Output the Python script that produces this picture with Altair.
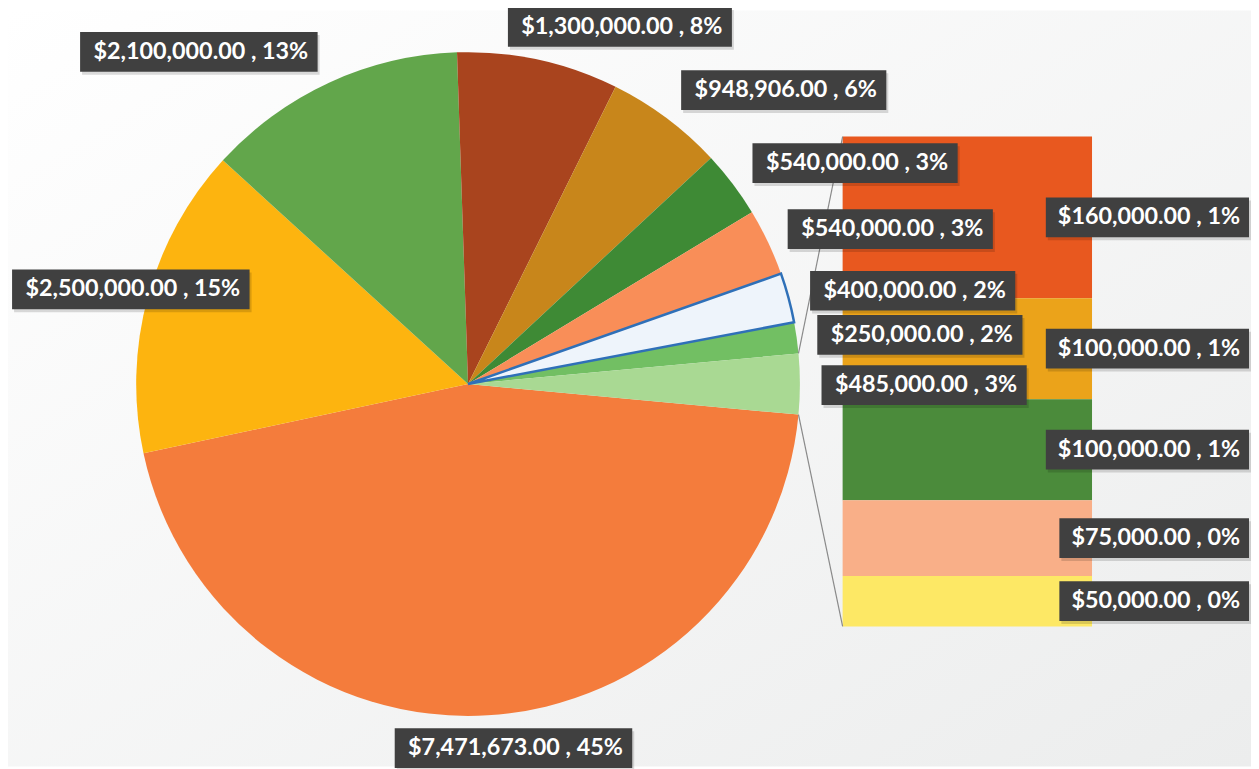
import math
import altair as alt
import pandas as pd

# ---------------- data ----------------
# main pie slices, clockwise starting with the large slice
pie_keys = ["a", "b", "c", "d", "e", "f", "g", "h", "i"]
pie_values = [7471673, 2500000, 2100000, 1300000, 948906, 540000, 540000, 400000, 250000]
# slices gathered in the "other" slice, shown in the bar (top -> bottom)
bar_keys = ["j", "k", "l", "m", "n"]
bar_values = [160000, 100000, 100000, 75000, 50000]
other_key = "other"

# ---------------- styles ----------------
pie_colors = ["#F47C3C", "#FDB40F", "#62A64B", "#A9441E", "#C8861B",
              "#3E8A35", "#F98E58", "#EEF4FB", "#72BF63"]
other_color = "#A9D993"
bar_colors = ["#E8581F", "#EBA31A", "#4B8B3B", "#F9AF88", "#FDE865"]
BOX_COLOR = "#404040"
FONT = "Lato"
FS = 23.5
FW = "bold"
BOX_H = 40

# ---------------- layout (chart pixels) ----------------
W, H = 1243, 753
CX, CY, R = 463, 376, 334
BX0, BX1, BY0, BY1 = 840, 1091, 127, 620
BAR_LABEL_RIGHT = 1240
# labels were dragged by hand in the original: offset of each label box centre
# from the outer edge of its slice at the slice's mid angle
label_nudge = {
    "a": (26, 33), "b": (-17, -8), "c": (-131, -31), "d": (82, -33),
    "e": (118, -28), "f": (123, -21), "g": (123, -13), "h": (125, -7),
    "i": (124, -3), "other": (125, 1),
}

CHAR_W = {"$": 0.58, ",": 0.225, ".": 0.225, " ": 0.193, "%": 0.82}


def text_w(s):
    return FS * sum(CHAR_W.get(c, 0.58) for c in s)


other_value = sum(bar_values)
total = sum(pie_values) + other_value


def pct(v):
    return int(v / total * 100 + 0.5)


def label(v):
    return f"${v:,.2f} , {pct(v)}%"


slice_keys = pie_keys + [other_key]
slice_values = pie_values + [other_value]
slice_colors = pie_colors + [other_color]

# the "other" slice is centred at 3 o'clock
start = math.pi / 2 + math.pi * other_value / total

pie_df = pd.DataFrame({
    "key": slice_keys,
    "value": slice_values,
    "idx": list(range(len(slice_keys))),
    "hex": slice_colors,
})

# ---- pie labels
rows = []
cum = 0
for k, v in zip(slice_keys, slice_values):
    m = start + 2 * math.pi * (cum + v / 2) / total
    cum += v
    nx, ny = label_nudge[k]
    cx = CX + R * math.sin(m) + nx
    cy = CY - R * math.cos(m) + ny
    t = label(v)
    w = text_w(t) + 26
    rows.append({"t": t, "tx": cx + 2, "ty": cy,
                 "x0": cx - w / 2, "x1": cx + w / 2,
                 "y0": cy - BOX_H / 2, "y1": cy + BOX_H / 2})
pie_lab = pd.DataFrame(rows)

# ---- bar data (stacked bottom-up: last item at the bottom)
bar_df = pd.DataFrame({
    "key": bar_keys,
    "value": bar_values,
    "idx": list(range(len(bar_keys))),
    "hex": bar_colors,
    "t": [label(v) for v in bar_values],
    "x0": [BAR_LABEL_RIGHT - text_w(label(v)) - 15 for v in bar_values],
    "x1": [BAR_LABEL_RIGHT + 9] * len(bar_values),
})

# ---- connector lines from the "other" slice to the bar
a_top = math.pi / 2 - math.pi * other_value / total
a_bot = math.pi / 2 + math.pi * other_value / total
conn = pd.DataFrame({
    "x": [CX + R * math.sin(a_top), CX + R * math.sin(a_bot)],
    "y": [CY - R * math.cos(a_top), CY - R * math.cos(a_bot)],
    "x2": [BX0, BX0],
    "y2": [BY0, BY1],
})

# ---------------- chart ----------------
bg = alt.Chart(pd.DataFrame({"z": [0]})).mark_rect(
    fill=alt.Gradient(gradient="linear", x1=0, y1=0, x2=1, y2=1,
                      stops=[alt.GradientStop(offset=0, color="#ffffff"),
                             alt.GradientStop(offset=1, color="#eceded")])
).encode(x=alt.value(0), x2=alt.value(W + 8), y=alt.value(0), y2=alt.value(H + 8))

theta = alt.Theta("value:Q", stack=True,
                  scale=alt.Scale(domain=[0, total], range=[start, start + 2 * math.pi]))

arcs = alt.Chart(pie_df).mark_arc(outerRadius=R).encode(
    theta=theta,
    color=alt.Color("hex:N", scale=None),
    order=alt.Order("idx:Q"),
    x=alt.value(CX), y=alt.value(CY),
)

outline = alt.Chart(pie_df).mark_arc(outerRadius=R, fillOpacity=0, stroke="#2F70B8",
                                     strokeWidth=2.5, strokeJoin="miter").encode(
    theta=theta,
    detail="key:N",
    order=alt.Order("idx:Q"),
    strokeOpacity=alt.condition("datum.key == 'h'", alt.value(1), alt.value(0)),
    x=alt.value(CX), y=alt.value(CY),
)

yscale = alt.Scale(domain=[0, other_value], range=[BY1, BY0])

stacked = alt.Chart(bar_df).transform_stack(
    stack="value", groupby=[], as_=["lo", "hi"],
    sort=[alt.SortField("idx", order="descending")],
).transform_calculate(mid="(datum.lo + datum.hi) / 2")

bar = stacked.mark_rect().encode(
    y=alt.Y("lo:Q", scale=yscale, axis=None), y2="hi:Q",
    color=alt.Color("hex:N", scale=None),
    x=alt.value(BX0), x2=alt.value(BX1),
)

connectors = alt.Chart(conn).mark_rule(color="#8a8a8a", strokeWidth=1.2).encode(
    x=alt.X("x:Q", scale=None), y=alt.Y("y:Q", scale=None),
    x2="x2:Q", y2="y2:Q",
)

pie_shadow = alt.Chart(pie_lab).mark_rect(color="#000000", opacity=0.14,
                                          xOffset=2, x2Offset=2, yOffset=3, y2Offset=3).encode(
    x=alt.X("x0:Q", scale=None), x2="x1:Q",
    y=alt.Y("y0:Q", scale=None), y2="y1:Q",
)
pie_box = alt.Chart(pie_lab).mark_rect(color=BOX_COLOR).encode(
    x=alt.X("x0:Q", scale=None), x2="x1:Q",
    y=alt.Y("y0:Q", scale=None), y2="y1:Q",
)
pie_text = alt.Chart(pie_lab).mark_text(font=FONT, fontSize=FS, fontWeight=FW, color="white",
                                        align="center", baseline="middle").encode(
    x=alt.X("tx:Q", scale=None), y=alt.Y("ty:Q", scale=None), text="t:N",
)

bar_shadow = stacked.mark_rect(color="#000000", opacity=0.14,
                               xOffset=2, x2Offset=2,
                               yOffset=-BOX_H / 2 + 3, y2Offset=BOX_H / 2 + 3).encode(
    x=alt.X("x0:Q", scale=None), x2="x1:Q",
    y=alt.Y("mid:Q", scale=yscale, axis=None), y2="mid:Q",
)
bar_box = stacked.mark_rect(color=BOX_COLOR,
                            yOffset=-BOX_H / 2, y2Offset=BOX_H / 2).encode(
    x=alt.X("x0:Q", scale=None), x2="x1:Q",
    y=alt.Y("mid:Q", scale=yscale, axis=None), y2="mid:Q",
)
bar_text = stacked.mark_text(font=FONT, fontSize=FS, fontWeight=FW, color="white",
                             align="right", baseline="middle").encode(
    x=alt.value(BAR_LABEL_RIGHT),
    y=alt.Y("mid:Q", scale=yscale, axis=None), text="t:N",
)

chart = alt.layer(
    bg, arcs, outline, bar, connectors,
    pie_shadow, pie_box, pie_text,
    bar_shadow, bar_box, bar_text,
).properties(
    width=W, height=H,
    padding={"left": 0, "top": 0, "right": 8, "bottom": 8},
    autosize=alt.AutoSizeParams(type="none"),
    background="#ffffff",
).configure_view(strokeOpacity=0)

chart.save("out.html", embed_options={"renderer": "svg", "actions": False})
